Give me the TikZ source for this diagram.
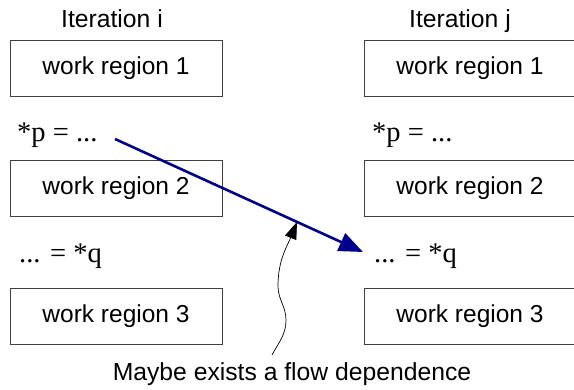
\documentclass[tikz,border=0pt]{standalone}
\usepackage{fontspec}
\setmainfont{Liberation Sans}
\newfontfamily\codefont{Liberation Serif}
\usetikzlibrary{arrows.meta}
\definecolor{depblue}{RGB}{0,0,140}
\tikzset{
  regionbox/.style={draw=black!75, line width=0.9pt, minimum width=212pt, minimum height=56pt, inner sep=0pt, font=\fontsize{24.5}{28}\selectfont},
  itertext/.style={font=\fontsize{24.7}{28}\selectfont, inner sep=0pt},
  codetext/.style={font=\codefont\fontsize{28.5}{30}\selectfont, inner sep=0pt, anchor=base west},
  deparrow/.style={draw=depblue, line width=2.6pt, -{Triangle[length=24pt,width=19pt]}},
  notearrow/.style={draw=black, line width=0.7pt, -{Triangle[length=17pt,width=12pt]}},
}
\begin{document}
\begin{tikzpicture}[x=1pt,y=-1pt]
\useasboundingbox (0,0) rectangle (574,390);
% headings
\node[itertext, anchor=base] (iti) at (112,28) {Iteration i};
\node[itertext, anchor=base] (itj) at (460,28) {Iteration j};
% left column
\node[regionbox] (l1) at (116,68.5) {work region 1};
\node[regionbox] (l2) at (116,188.5) {work region 2};
\node[regionbox] (l3) at (116,316.5) {work region 3};
% right column
\node[regionbox] (r1) at (470,68.5) {work region 1};
\node[regionbox] (r2) at (470,188.5) {work region 2};
\node[regionbox] (r3) at (470,316.5) {work region 3};
% code lines
\node[codetext] (lp) at (17,142) {*p = ...};
\node[codetext] (lq) at (19,263) {... = *q};
\node[codetext] (rp) at (372,142) {*p = ...};
\node[codetext] (rq) at (374,263) {... = *q};
% dependence arrow
\coordinate (depstart) at (115,139);
\coordinate (depend) at (363,252);
\draw[deparrow] (depstart) -- (depend);
% caption and pointer
\node[itertext, anchor=base] (cap) at (292,381) {Maybe exists a flow dependence};
\coordinate (notestart) at (272,355);
\coordinate (notetip) at (297,222);
\draw[notearrow] (notestart) to[out=62,in=-90] (286,320) to[out=90,in=-90] (278,286) to[out=90,in=-112] (notetip);
\end{tikzpicture}
\end{document}
